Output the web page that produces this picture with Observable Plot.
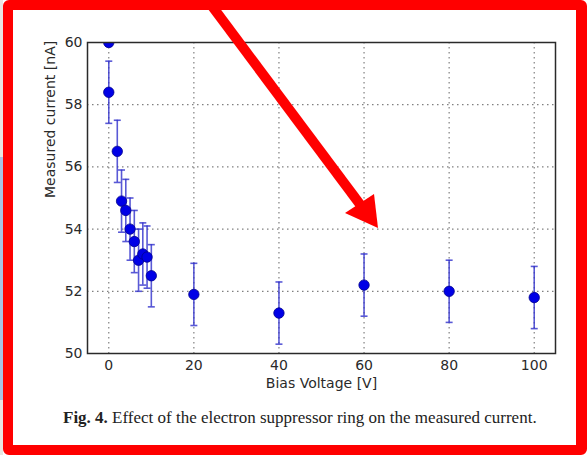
<!DOCTYPE html>
<html>
<head>
<meta charset="utf-8">
<script src="https://cdn.jsdelivr.net/npm/d3@7"></script>
<script src="https://cdn.jsdelivr.net/npm/@observablehq/plot@0.6"></script>
<style>
  html, body { margin: 0; padding: 0; background: #fff; }
  #wrap { position: relative; width: 587px; height: 455px; overflow: hidden; background: #fff; }
  #stripGray { position: absolute; left: 0; top: 0; width: 3px; height: 455px; background: #e9e6e2; }
  #stripBlue { position: absolute; left: 0; top: 157px; width: 3px; height: 243px; background: #a9c1e6; }
  #chart { position: absolute; left: 0; top: 0; }
  #caption { position: absolute; left: 63px; top: 408px; white-space: nowrap;
             font-family: "Liberation Serif", "DejaVu Serif", serif; font-size: 17px;
             line-height: 20px; color: #222; }
  #border { position: absolute; left: 3px; top: 0; width: 584px; height: 455px; box-sizing: border-box;
            border-style: solid; border-color: #ff0000; border-width: 10px 11px 10px 10px; border-radius: 6px; }
  #arrow { position: absolute; left: 0; top: 0; }
</style>
</head>
<body>
<div id="wrap">
  <div id="stripGray"></div>
  <div id="stripBlue"></div>
  <div id="chart"></div>
  <div id="caption"><b>Fig. 4.</b> Effect of the electron suppressor ring on the measured current.</div>
  <div id="border"></div>
  <svg id="arrow" width="587" height="455">
    <line x1="206" y1="-2" x2="362" y2="207" stroke="#ff0000" stroke-width="10"/>
    <polygon points="378,228 345,213 374,194" fill="#ff0000"/>
  </svg>
</div>
<script>
// Data
const voltage = [0, 0, 2, 3, 4, 5, 6, 7, 8, 9, 10, 20, 40, 60, 80, 100];
const current = [60.0, 58.4, 56.5, 54.9, 54.6, 54.0, 53.6, 53.0, 53.2, 53.1, 52.5, 51.9, 51.3, 52.2, 52.0, 51.8];
const errorNA = [null, 1, 1, 1, 1, 1, 1, 1, 1, 1, 1, 1, 1, 1, 1, 1];
const xTicks = [0, 20, 40, 60, 80, 100];
const yTicks = [50, 52, 54, 56, 58, 60];
const xLabel = "Bias Voltage [V]";
const yLabel = "Measured current [nA]";

const rows = voltage.map((v, i) => ({ v, c: current[i], e: errorNA[i] }));
const bars = rows.filter(d => d.e != null);
const caps = bars.flatMap(d => [{ v: d.v, y: d.c - d.e }, { v: d.v, y: d.c + d.e }]);

const capSymbol = {
  draw(context, size) {
    const r = Math.sqrt(size / Math.PI);
    context.moveTo(-r, 0);
    context.lineTo(r, 0);
  }
};

const errColor = "#2f2fcc";

const chart = Plot.plot({
  width: 587,
  height: 400,
  marginLeft: 87,
  marginRight: 32,
  marginTop: 42,
  marginBottom: 47,
  x: { domain: [-5, 105] },
  y: { domain: [50, 60] },
  style: { fontFamily: "DejaVu Sans, sans-serif", fontSize: "14px", color: "#2a2a2a", background: "transparent", overflow: "visible" },
  marks: [
    Plot.gridX({ ticks: xTicks, stroke: "#808080", strokeOpacity: 1, strokeWidth: 1.2, strokeDasharray: "1.5,3.5" }),
    Plot.gridY({ ticks: yTicks, stroke: "#808080", strokeOpacity: 1, strokeWidth: 1.2, strokeDasharray: "1.5,3.5" }),
    Plot.ruleX(bars, { x: "v", y1: d => d.c - d.e, y2: d => d.c + d.e, stroke: errColor, strokeOpacity: 0.8, strokeWidth: 1.6 }),
    Plot.dot(caps, { x: "v", y: "y", r: 3.5, symbol: capSymbol, stroke: errColor, strokeOpacity: 0.8, strokeWidth: 1.6, fill: "none" }),
    Plot.dot(rows, { x: "v", y: "c", r: 5.2, fill: "#0000e6", stroke: "#00008b", strokeWidth: 0.8, clip: true }),
    Plot.frame({ stroke: "#2a2a2a", strokeWidth: 1.5 }),
    Plot.axisX({ ticks: xTicks, tickSize: 0, tickPadding: 7, label: null, fontSize: 14 }),
    Plot.axisY({ ticks: yTicks, tickSize: 0, tickPadding: 5, label: null, fontSize: 14 }),
    Plot.text([xLabel], { frameAnchor: "bottom", dy: 34, fontSize: 14, fill: "#2a2a2a" }),
    Plot.text([yLabel], { frameAnchor: "left", dx: -37, rotate: -90, fontSize: 14, fill: "#2a2a2a" })
  ]
});
document.getElementById("chart").appendChild(chart);
</script>
</body>
</html>
